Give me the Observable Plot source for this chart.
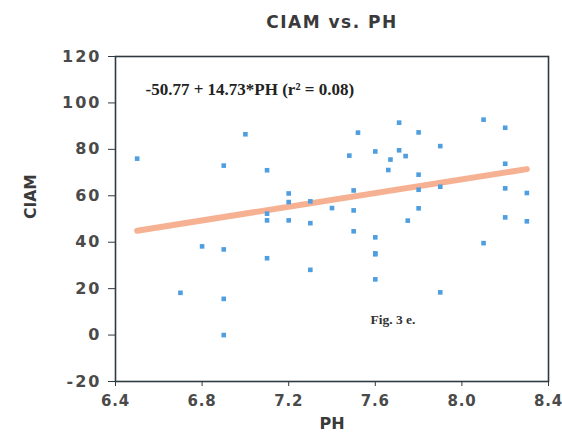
<!DOCTYPE html>
<html>
<head>
<meta charset="utf-8">
<script src="https://cdn.jsdelivr.net/npm/d3@7"></script>
<script src="https://cdn.jsdelivr.net/npm/@observablehq/plot@0.6"></script>
<style>
  html, body { margin: 0; padding: 0; background: #fff; }
  #chart svg { display: block; }
  #chart svg g[aria-label="x-axis tick label"] text { letter-spacing: 0.8px; }
  #chart svg g[aria-label="y-axis tick label"] text { letter-spacing: 2px; }
  #chart svg .ttl text { letter-spacing: 1.5px; }
</style>
</head>
<body>
<div id="chart"></div>
<script>
const title = "CIAM vs. PH";
const xLabel = "PH";
const yLabel = "CIAM";
const xTicks = [6.4, 6.8, 7.2, 7.6, 8.0, 8.4];
const yTicks = [-20, 0, 20, 40, 60, 80, 100, 120];
const equation = "-50.77 + 14.73*PH (r² = 0.08)";
const figNote = "Fig. 3 e.";
const intercept = -50.77;
const slope = 14.73;
const lineX = [6.5, 8.3];

const ph = [6.5, 7.0, 6.9, 7.1, 7.2, 7.2, 7.3, 7.4, 7.1, 7.1, 7.2, 7.3,
  7.71, 7.52, 7.8, 8.1, 8.2, 7.9, 7.48, 7.6, 7.71, 7.74, 7.67, 7.66, 7.8, 8.2,
  7.5, 7.8, 7.9, 8.2, 8.3, 7.5, 7.8, 7.75, 8.2, 8.3, 7.5, 7.6, 8.1, 7.6, 7.6, 7.6, 7.9,
  6.8, 6.9, 7.1, 7.3, 6.7, 6.9, 6.9];
const ciam = [76, 86.5, 73, 71, 61, 57.3, 57.6, 54.7, 52.3, 49.4, 49.4, 48.2,
  91.5, 87.2, 87.3, 92.8, 89.3, 81.4, 77.3, 79.1, 79.6, 77.1, 75.6, 71.1, 69.1, 73.8,
  62.3, 62.6, 63.9, 63.2, 61.2, 53.7, 54.6, 49.3, 50.7, 49, 44.7, 42.1, 39.6, 35.2, 34.8, 24, 18.4,
  38.2, 36.9, 33.1, 28.1, 18.2, 15.6, 0];

const pts = ph.map((p, i) => ({ph: p, ciam: ciam[i]}));
const fit = lineX.map(x => ({ph: x, ciam: intercept + slope * x}));

const font = "'DejaVu Sans', Verdana, sans-serif";
const serif = "'Liberation Serif', 'Times New Roman', serif";

const chart = Plot.plot({
  width: 562,
  height: 436,
  marginLeft: 115,
  marginRight: 14,
  marginTop: 56,
  marginBottom: 55,
  style: {fontFamily: font, background: "#fff"},
  x: {domain: [6.4, 8.4], ticks: xTicks, tickFormat: d3.format(".1f")},
  y: {domain: [-20, 120], ticks: yTicks},
  marks: [
    Plot.line(fit, {x: "ph", y: "ciam", stroke: "#f5a887", strokeWidth: 6, strokeOpacity: 0.9}),
    Plot.dot(pts, {x: "ph", y: "ciam", symbol: "square", r: 2.6, fill: "#4f9ee0", stroke: "none"}),
    Plot.frame({stroke: "#2f3a40", strokeWidth: 1.6}),
    Plot.axisX({ticks: xTicks, tickFormat: d3.format(".1f"), tickSize: 5, tickPadding: 9,
      fontSize: 15, fontWeight: "bold", fill: "#4a4a4a", stroke: "#2f3a40", label: null, fontFamily: font}),
    Plot.axisY({ticks: yTicks, tickFormat: d => String(d), tickSize: 7, tickPadding: 7,
      fontSize: 16, fontWeight: "bold", fill: "#4a4a4a", stroke: "#2f3a40", label: null, fontFamily: font}),
    Plot.text([title], {frameAnchor: "top", dy: -41, text: d => d, fontSize: 17, className: "ttl",
      fontWeight: "bold", fill: "#3a3a3a", fontFamily: font}),
    Plot.text([xLabel], {frameAnchor: "bottom", dy: 47, text: d => d, fontSize: 16,
      fontWeight: "bold", fill: "#3a3a3a", fontFamily: font}),
    Plot.text([yLabel], {frameAnchor: "left", dx: -84, rotate: -90, text: d => d, fontSize: 15.5,
      fontWeight: "bold", fill: "#3a3a3a", fontFamily: font}),
    Plot.text([equation], {frameAnchor: "top-left", dx: 30, dy: 26, text: d => d, fontSize: 17,
      fontWeight: "bold", fill: "#222", fontFamily: serif, textAnchor: "start"}),
    Plot.text([figNote], {frameAnchor: "bottom-left", dx: 255, dy: -58, text: d => d, fontSize: 13.5,
      fontWeight: "bold", fill: "#333", fontFamily: serif, textAnchor: "start"})
  ]
});
document.getElementById("chart").appendChild(chart);
</script>
</body>
</html>
